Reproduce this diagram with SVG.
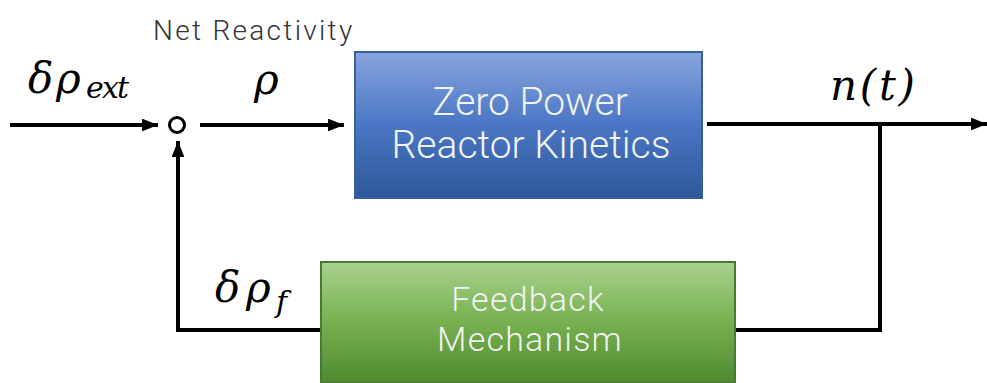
<svg xmlns="http://www.w3.org/2000/svg" width="987" height="383" viewBox="0 0 987 383">
<style>
.lbl{font-family:Roboto,"Liberation Sans",sans-serif;font-weight:300;}
.box{font-family:Roboto,"Liberation Sans",sans-serif;font-weight:300;font-size:39px;fill:#f2f2f2;text-anchor:middle;}
.box2{font-size:34px;letter-spacing:1.2px;}
.math{font-family:"DejaVu Serif","Liberation Serif",serif;font-style:italic;fill:#000;}
.w{fill:none;stroke:#000;stroke-width:4;}
</style>
<defs>
<linearGradient id="gb" x1="0" y1="0" x2="0" y2="1">
<stop offset="0" stop-color="#88a5dd"/>
<stop offset="0.5" stop-color="#4a76c5"/>
<stop offset="1" stop-color="#2d5898"/>
</linearGradient>
<linearGradient id="gg" x1="0" y1="0" x2="0" y2="1">
<stop offset="0" stop-color="#a9d28e"/>
<stop offset="0.5" stop-color="#76b04f"/>
<stop offset="1" stop-color="#4f8a2f"/>
</linearGradient>
<marker id="ah" viewBox="0 0 10 8" refX="10" refY="4" markerWidth="4" markerHeight="3.2" markerUnits="strokeWidth" orient="auto">
<path d="M0,0 L10,4 L0,8 z" fill="#000"/>
</marker>
</defs>
<g id="connectors">
<line class="w" x1="10" y1="125" x2="158" y2="125" marker-end="url(#ah)"/>
<line class="w" x1="200" y1="125" x2="344" y2="125" marker-end="url(#ah)"/>
<line class="w" x1="707" y1="124" x2="987" y2="124" marker-end="url(#ah)"/>
<polyline class="w" points="880,124 880,330 735,330"/>
<polyline class="w" points="321,330 178,330 178,141" marker-end="url(#ah)"/>
</g>
<g id="sum">
<circle cx="177" cy="125" r="7.5" fill="#fff" stroke="#000" stroke-width="3"/>
</g>
<g id="kinetics">
<rect x="355" y="52" width="347" height="146" fill="url(#gb)" stroke="#35609a" stroke-width="2"/>
<text class="box" x="530" y="115">Zero Power</text>
<text class="box" x="531" y="158">Reactor Kinetics</text>
</g>
<g id="feedback">
<rect x="321" y="262" width="414" height="121" fill="url(#gg)" stroke="#4a7a30" stroke-width="2"/>
<text class="box box2" x="528" y="311">Feedback</text>
<text class="box box2" x="530" y="351">Mechanism</text>
</g>
<g id="labels">
<text class="lbl" x="153" y="40" font-size="28" letter-spacing="2.3" fill="#333">Net Reactivity</text>
<text class="math" font-size="42"><tspan x="28" y="93">δ</tspan><tspan x="56" y="93">ρ</tspan><tspan x="86" y="98" font-size="30" textLength="43">ext</tspan></text>
<text class="math" x="254" y="94" font-size="42">ρ</text>
<text class="math" x="830" y="100" font-size="42" textLength="85">n(t)</text>
<text class="math" font-size="42"><tspan x="215" y="302">δ</tspan><tspan x="246" y="302">ρ</tspan><tspan x="276" y="312" font-size="30">f</tspan></text>
</g>
</svg>
